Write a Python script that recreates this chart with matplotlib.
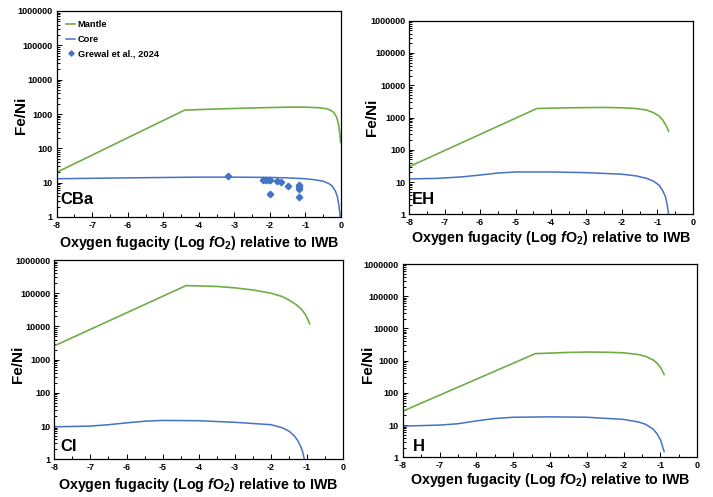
import matplotlib
matplotlib.use("Agg")
import matplotlib.pyplot as plt
from matplotlib.ticker import LogLocator, MultipleLocator, FixedLocator, NullFormatter

plt.rcParams['font.family'] = ['Liberation Sans', 'DejaVu Sans']
plt.rcParams['font.weight'] = 'bold'
plt.rcParams['mathtext.fontset'] = 'custom'
plt.rcParams['mathtext.rm'] = 'Liberation Sans:bold'
plt.rcParams['mathtext.it'] = 'Liberation Sans:bold:italic'
plt.rcParams['mathtext.bf'] = 'Liberation Sans:bold'

GREEN = '#70AD47'
BLUE = '#4472C4'

# ---- CBa ----
cba_mantle_x = [-8, -4.4, -3.5, -2.5, -1.5, -1.0, -0.6, -0.4, -0.3, -0.2, -0.12, -0.07, -0.03, -0.01]
cba_mantle_y = [20, 1300, 1400, 1500, 1580, 1580, 1520, 1420, 1300, 1100, 800, 500, 250, 150]
cba_core_x = [-8, -6, -4, -3, -2, -1.5, -1.0, -0.7, -0.5, -0.35, -0.25, -0.15, -0.1, -0.06, -0.04, -0.02]
cba_core_y = [13, 13.8, 14.5, 14.5, 14.2, 13.8, 13.0, 12.0, 11.0, 9.5, 8.0, 5.5, 3.8, 2.2, 1.5, 1.0]
grewal_x = [-3.17, -2.19, -2.11, -2.04, -1.99, -2.0, -1.8, -1.7, -1.49, -1.19, -1.19, -1.19, -1.19]
grewal_y = [15.7, 12.0, 12.0, 12.3, 12.0, 4.6, 10.9, 10.7, 8.0, 8.6, 7.3, 6.4, 3.9]

# ---- EH ----
eh_mantle_x = [-8, -4.4, -3.5, -2.5, -2.0, -1.6, -1.3, -1.1, -0.95, -0.85, -0.75, -0.68]
eh_mantle_y = [30, 1900, 2000, 2050, 2000, 1900, 1700, 1400, 1100, 850, 560, 380]
eh_core_x = [-8, -7.2, -6.5, -6.0, -5.5, -5.0, -4.0, -3.0, -2.0, -1.6, -1.3, -1.1, -0.95, -0.85, -0.77, -0.72, -0.68]
eh_core_y = [12.5, 13.0, 14.5, 16.5, 19.0, 20.5, 20.5, 19.5, 17.5, 15.5, 13.0, 10.5, 8.0, 5.5, 3.5, 2.0, 1.0]

# ---- CI ----
ci_mantle_x = [-8, -4.35, -3.5, -3.0, -2.5, -2.0, -1.7, -1.5, -1.3, -1.15, -1.05, -0.98, -0.93]
ci_mantle_y = [2600, 170000, 160000, 145000, 125000, 100000, 80000, 62000, 45000, 32000, 23000, 16000, 12000]
ci_core_x = [-8, -7.0, -6.5, -6.0, -5.5, -5.0, -4.0, -3.0, -2.0, -1.7, -1.5, -1.35, -1.25, -1.17, -1.12, -1.08]
ci_core_y = [9.5, 10.0, 11.0, 12.5, 14.0, 14.8, 14.5, 13.0, 11.0, 9.0, 7.0, 5.0, 3.5, 2.3, 1.6, 1.0]

# ---- H ----
h_mantle_x = [-8, -4.4, -3.5, -3.0, -2.5, -2.0, -1.6, -1.4, -1.2, -1.1, -1.0, -0.95, -0.9]
h_mantle_y = [27, 1650, 1800, 1850, 1830, 1750, 1550, 1350, 1050, 850, 620, 480, 370]
h_core_x = [-8, -7.0, -6.5, -6.0, -5.5, -5.0, -4.0, -3.0, -2.0, -1.6, -1.4, -1.2, -1.1, -1.0, -0.95, -0.9]
h_core_y = [9.3, 10.0, 11.0, 13.5, 16.0, 17.5, 18.0, 17.5, 15.0, 12.5, 10.5, 7.5, 5.5, 3.5, 2.3, 1.5]

panel_names = ['CBa', 'EH', 'CI', 'H']
xticks = [-8, -7, -6, -5, -4, -3, -2, -1, 0]
yticks = [1, 10, 100, 1000, 10000, 100000, 1000000]
ytick_labels = ['1', '10', '100', '1000', '10000', '100000', '1000000']

W, H = 713, 497
fig = plt.figure(figsize=(W / 100, H / 100), dpi=100)

# (left, right, top, bottom) in pixels
boxes = [(56.7, 341, 11, 217), (409.3, 692.7, 20.7, 214.3),
         (54.3, 343.3, 260, 459.3), (402.7, 697.3, 264, 457.3)]
# ylabel centre (x, y) px, xlabel centre y px, panel-label (x px, bottom px)
ylab_pos = [(21, 115), (372, 117), (18, 364), (368, 364)]
xlab_y = [243, 238, 485, 480]
name_pos = [(60, 207), (412, 207), (60, 454), (413, 454)]

series = [
    (cba_mantle_x, cba_mantle_y, cba_core_x, cba_core_y),
    (eh_mantle_x, eh_mantle_y, eh_core_x, eh_core_y),
    (ci_mantle_x, ci_mantle_y, ci_core_x, ci_core_y),
    (h_mantle_x, h_mantle_y, h_core_x, h_core_y),
]

for i, ((l, r, t, b), (mx, my, cx, cy), name) in enumerate(zip(boxes, series, panel_names)):
    ax = fig.add_axes([l / W, 1 - b / H, (r - l) / W, (b - t) / H])
    aw, ah = r - l, b - t
    ax.plot(mx, my, color=GREEN, lw=1.2, label='Mantle')
    ax.plot(cx, cy, color=BLUE, lw=1.1, label='Core')
    if i == 0:
        ax.plot(grewal_x, grewal_y, linestyle='none', marker='D', ms=3.3,
                color=BLUE, label='Grewal et al., 2024')
        ax.legend(loc='upper left', frameon=False, handlelength=1.0,
                  handletextpad=0.25, borderaxespad=0.7, labelspacing=0.6,
                  borderpad=0.3, markerscale=0.8, prop={'weight': 'bold', 'size': 6.7})
    ax.set_yscale('log')
    ax.set_xlim(-8, 0)
    ax.set_ylim(1, 1000000)
    ax.xaxis.set_major_locator(FixedLocator(xticks))
    ax.set_xticklabels([str(v) for v in xticks])
    ax.xaxis.set_minor_locator(MultipleLocator(0.5))
    ax.yaxis.set_major_locator(FixedLocator(yticks))
    ax.set_yticklabels(ytick_labels)
    ax.yaxis.set_minor_locator(LogLocator(base=10, subs=range(2, 10), numticks=20))
    ax.yaxis.set_minor_formatter(NullFormatter())
    ax.tick_params(axis='both', which='both', direction='in', labelsize=6.5, width=0.7,
                   top=False, right=False, pad=3)
    ax.tick_params(which='major', length=3.5)
    ax.tick_params(which='minor', length=2.5)
    for lab in ax.get_xticklabels() + ax.get_yticklabels():
        lab.set_fontweight('bold')
    for sp in ax.spines.values():
        sp.set_linewidth(0.9)
    ax.set_xlabel(r'Oxygen fugacity (Log $\mathit{f}$O$_2$) relative to IWB',
                  fontsize=10.3, fontweight='bold')
    ax.xaxis.label.set_va('center')
    ax.xaxis.set_label_coords(0.5, -(xlab_y[i] - b) / ah)
    ax.set_ylabel('Fe/Ni', fontsize=11, fontweight='bold')
    ax.yaxis.label.set_va('center')
    yx, yy = ylab_pos[i]
    ax.yaxis.set_label_coords((yx - l) / aw, (b - yy) / ah)
    nx, nb = name_pos[i]
    ax.text((nx - l) / aw, (b - nb) / ah, name, transform=ax.transAxes, fontsize=12,
            fontweight='bold', ha='left', va='bottom')

fig.savefig('out.png', dpi=100)
